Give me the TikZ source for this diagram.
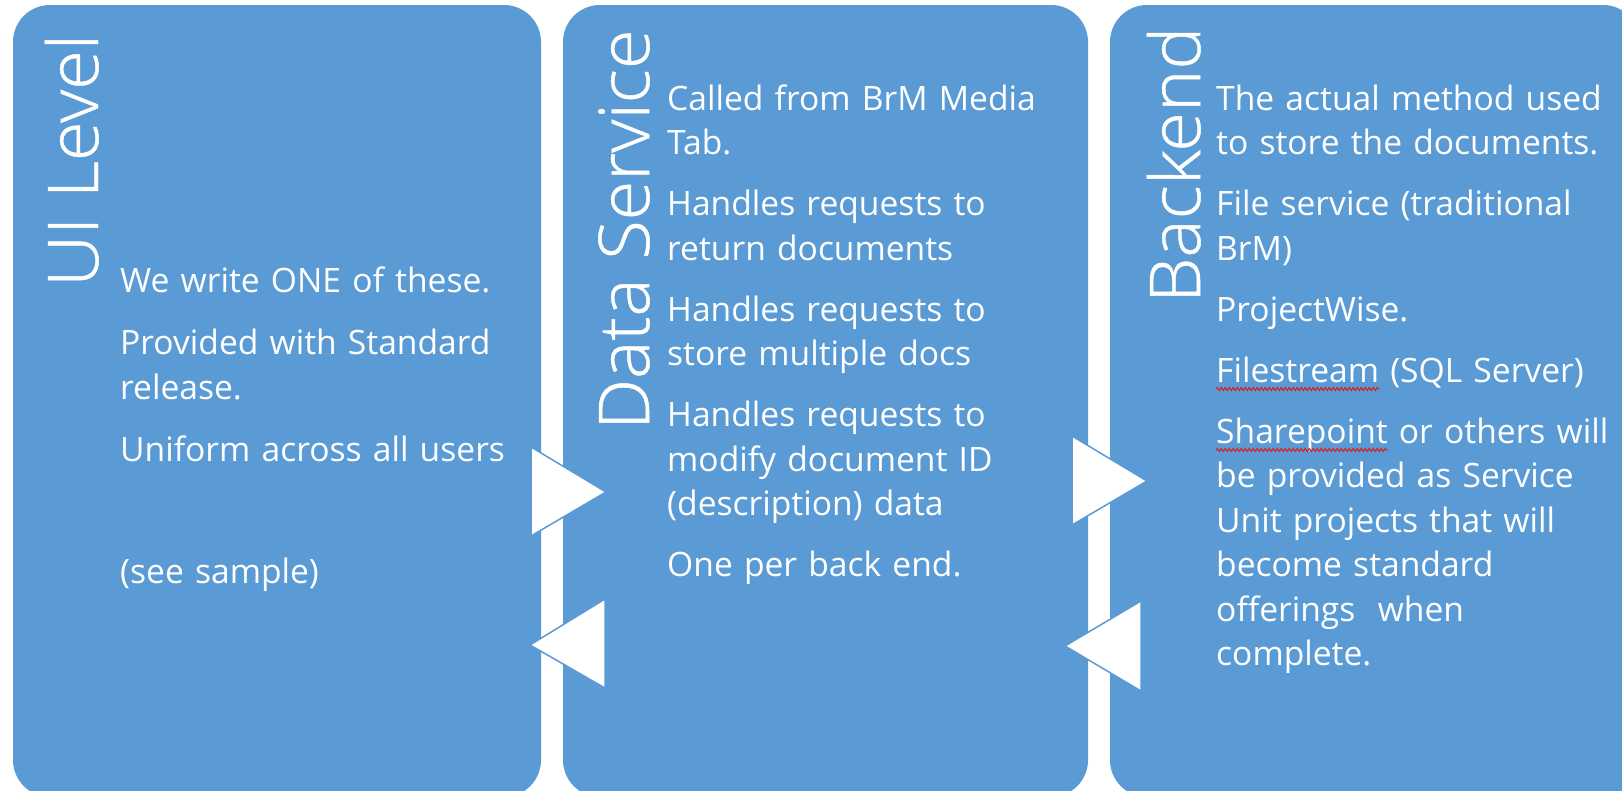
\documentclass[tikz,border=0pt]{standalone}
\usepackage{fontspec}
\setmainfont{Open Sans}
\newfontfamily\titlefont{Open Sans Light}[FakeBold=0.7]
\usetikzlibrary{decorations.pathmorphing}
\definecolor{boxblue}{HTML}{5B9BD5}
\definecolor{squigred}{HTML}{D02828}
\newlength\wordA
\newlength\wordB
\settowidth\wordA{\fontsize{33.6}{44.5}\selectfont Filestream}
\settowidth\wordB{\fontsize{33.6}{44.5}\selectfont Sharepoint}
\begin{document}
\begin{tikzpicture}[x=1pt,y=-1pt,
  panel/.style={fill=boxblue, rounded corners=37pt},
  title/.style={font=\titlefont\fontsize{70}{70}\selectfont, text=white, rotate=90, xscale=1.03, anchor=base west, inner sep=0pt},
  body/.style={font=\fontsize{33.6}{44.5}\selectfont, text=white, anchor=base west, inner sep=0pt, align=left, text width=600pt},
  arrowtri/.style={fill=white, draw=boxblue, line width=1.5pt, line join=miter},
  spell/.style={draw=squigred, line width=1.2pt, decorate, decoration={snake, amplitude=1.4pt, segment length=4pt}}]
\useasboundingbox (0,0) rectangle (1622,790);
\clip (0,0) rectangle (1622,790);
\fill[white] (0,0) rectangle (1622,790);
% panels
\fill[panel] (13,5) rectangle (541,797);
\fill[panel] (563,5) rectangle (1088,797);
\fill[panel] (1110,5) rectangle (1640,797);
% titles
\node[title] (t1) at (98,287) {UI Level};
\node[title] (t2) at (649,430) {Data Service};
\node[title] (t3) at (1200,303) {Backend};
% body texts
\node[body, font=\fontsize{33.6}{45.5}\selectfont] (b1) at (120,292) {We write ONE of these.\\[16.5pt]
Provided with Standard\\release.\\[16.5pt]
Uniform across all users\\[76.5pt]
(see sample)};
\node[body] (b2) at (667,110) {Called from BrM Media\\Tab.\\[16.5pt]
Handles requests to\\return documents\\[16.5pt]
Handles requests to\\store multiple docs\\[16.5pt]
Handles requests to\\modify document ID\\(description) data\\[16.5pt]
One per back end.};
\node[body] (b3) at (1216,110) {The actual method used\\to store the documents.\\[16.5pt]
File service (traditional\\BrM)\\[16.5pt]
ProjectWise.\\[16.5pt]
Filestream (SQL Server)\\[16.5pt]
Sharepoint or others will\\be provided as Service\\Unit projects that will\\become standard\\offerings\ \ when\\complete.};
% spelling marks
\coordinate (s1) at (1216,389);
\coordinate (s2) at (1216,450);
\draw[spell] (s1) -- ++(\wordA,0pt);
\draw[spell] (s2) -- ++(\wordB,0pt);
% arrows between panels
\filldraw[arrowtri] (531,447) -- (531,536) -- (606,492) -- cycle;
\filldraw[arrowtri] (530,645) -- (605,599) -- (605,688) -- cycle;
\filldraw[arrowtri] (1072,436) -- (1072,525) -- (1147,481) -- cycle;
\filldraw[arrowtri] (1065,646) -- (1141,601) -- (1141,691) -- cycle;
\end{tikzpicture}
\end{document}
